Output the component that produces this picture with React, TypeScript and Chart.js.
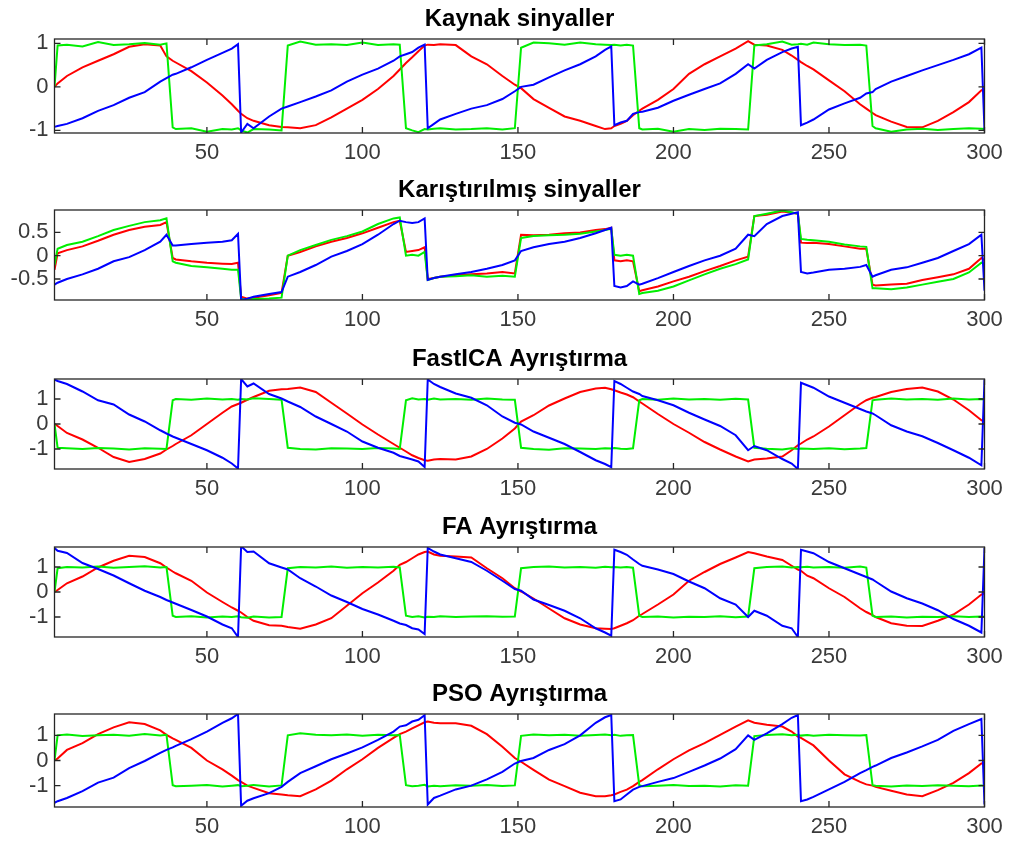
import React, { useEffect, useRef } from "react";
import { Chart, registerables } from "chart.js";

Chart.register(...registerables);

const FONT = '"Liberation Sans", Arial, Helvetica, sans-serif';

// shared sample positions (x = sample index)
const xs = [
  1, 2, 5, 10, 15, 20, 25, 30, 35, 37,
  39, 40, 45, 50, 55, 58, 60, 61, 63, 65,
  70, 74, 76, 80, 85, 90, 95, 100, 105, 110,
  112, 114, 116, 118, 120, 121, 123, 125, 130, 135,
  140, 145, 149, 151, 155, 160, 165, 170, 175, 178,
  180, 181, 183, 185, 187, 189, 190, 195, 200, 205,
  210, 215, 220, 224, 226, 230, 235, 238, 240, 241,
  243, 245, 250, 255, 260, 262, 264, 265, 270, 275,
  280, 285, 290, 295, 299, 300,
];

const xTicks = [50, 100, 150, 200, 250, 300];
const yTicksUnit = [-1, 0, 1];
const yTicksHalf = [-0.5, 0, 0.5];

const titles = [
  "Kaynak sinyaller",
  "Karıştırılmış sinyaller",
  "FastICA Ayrıştırma",
  "FA Ayrıştırma",
  "PSO Ayrıştırma",
];

// ---- Kaynak sinyaller ----
const sourceRed = [
  0, 0.08, 0.25, 0.45, 0.6, 0.75, 0.92, 0.98, 0.95, 0.7,
  0.6, 0.56, 0.36, 0.1, -0.2, -0.4, -0.55, -0.62, -0.72, -0.78,
  -0.88, -0.92, -0.93, -0.95, -0.88, -0.7, -0.5, -0.3, -0.05, 0.25,
  0.4, 0.55, 0.68, 0.82, 0.95, 0.97, 0.96, 0.98, 0.96, 0.7,
  0.52, 0.25, 0.05, -0.03, -0.28, -0.48, -0.68, -0.78, -0.9, -0.97,
  -0.95, -0.9, -0.85, -0.78, -0.65, -0.55, -0.5, -0.3, -0.05, 0.3,
  0.52, 0.7, 0.88, 1.05, 0.97, 0.95, 0.85, 0.72, 0.62, 0.57,
  0.48, 0.4, 0.15, -0.1, -0.4, -0.5, -0.6, -0.65, -0.8, -0.92,
  -0.93, -0.78, -0.58, -0.35, -0.08, -0.05,
];
const sourceGreen = [
  0, 0.95, 0.97, 0.93, 1.03, 0.96, 0.98, 1.01, 0.97, 1.0,
  -0.93, -0.97, -0.95, -1.03, -0.97, -0.98, -0.95, -1.0, -1.05, -0.97,
  -0.98, -1.0, 0.95, 1.04, 0.97, 0.98, 0.96, 1.02, 0.96, 0.98,
  0.97, -0.95, -1.0, -1.04, -0.97, -0.98, -0.96, -0.95, -0.98, -0.97,
  -0.95, -0.98, -0.95, 0.9, 1.02, 1.0, 0.97, 1.02, 0.98, 0.97,
  0.96, 0.97, 0.95, 0.97, 0.95, -0.95, -0.98, -0.96, -1.03, -0.97,
  -0.99, -0.96, -0.97, -0.98, 0.95, 0.98, 1.04, 0.97, 0.98, 0.99,
  0.97, 1.02, 0.98, 0.96, 0.97, 0.95, -0.9, -0.95, -1.03, -0.98,
  -0.96, -0.99, -0.97, -0.95, -0.96, -0.97,
];
const sourceBlue = [
  -0.92, -0.9, -0.85, -0.72, -0.55, -0.42, -0.25, -0.12, 0.12, 0.2,
  0.28, 0.3, 0.45, 0.62, 0.78, 0.88, 0.98, -1.05, -0.85, -0.95,
  -0.68, -0.5, -0.45, -0.35, -0.22, -0.08, 0.12, 0.28, 0.42, 0.6,
  0.7, 0.75, 0.8, 0.9, 0.97, -0.95, -0.85, -0.75, -0.62, -0.5,
  -0.42, -0.28, -0.1, 0.0, 0.05, 0.22, 0.38, 0.52, 0.7, 0.85,
  0.93, -0.88, -0.82, -0.78, -0.62, -0.58, -0.57, -0.48, -0.32, -0.18,
  -0.05, 0.08, 0.3, 0.52, 0.42, 0.62, 0.8, 0.88, 0.92, -0.88,
  -0.82, -0.75, -0.52, -0.38, -0.25, -0.15, -0.12, -0.05, 0.12, 0.25,
  0.38, 0.5, 0.62, 0.75, 0.9, -1.0,
];

// ---- Karıştırılmış sinyaller ----
const mixedRed = [
  -0.3, 0.05, 0.12, 0.2, 0.32, 0.45, 0.55, 0.62, 0.66, 0.72,
  -0.05, -0.08, -0.12, -0.15, -0.17, -0.18, -0.15, -0.88, -0.92, -0.9,
  -0.85, -0.8, 0.0, 0.08, 0.2, 0.3, 0.38, 0.48, 0.6, 0.72,
  0.75, 0.08, 0.1, 0.12, 0.18, -0.5, -0.48, -0.45, -0.42, -0.4,
  -0.38, -0.35, -0.38, 0.45, 0.44, 0.45, 0.48, 0.5, 0.55, 0.57,
  0.6, -0.1, -0.12, -0.1, -0.12, -0.76, -0.74, -0.66, -0.55, -0.45,
  -0.33, -0.22, -0.1, -0.02, 0.85, 0.88, 0.95, 0.92, 0.9, 0.28,
  0.27, 0.28, 0.25, 0.2, 0.15, 0.15, -0.62, -0.64, -0.62, -0.6,
  -0.52, -0.46, -0.4, -0.28, -0.05, -0.1,
];
const mixedGreen = [
  -0.2, 0.15, 0.23, 0.3, 0.42, 0.55, 0.64, 0.72, 0.76, 0.8,
  -0.12, -0.15, -0.22, -0.25, -0.28, -0.3, -0.3, -0.92, -0.95, -0.93,
  -0.92, -0.9, 0.0, 0.12, 0.23, 0.34, 0.42, 0.52, 0.68, 0.8,
  0.82, 0.0, 0.02, 0.0, 0.08, -0.52, -0.48, -0.45, -0.44, -0.42,
  -0.45, -0.43, -0.45, 0.38, 0.42, 0.44, 0.45, 0.47, 0.52, 0.55,
  0.58, 0.02, 0.0, 0.02, 0.0, -0.82, -0.8, -0.75, -0.66, -0.53,
  -0.4, -0.28, -0.18, -0.08, 0.85, 0.9, 0.97, 0.93, 0.9, 0.36,
  0.34, 0.33, 0.3, 0.24, 0.2, 0.19, -0.7, -0.7, -0.72, -0.68,
  -0.62, -0.56, -0.5, -0.36, -0.15, -0.18,
];
const mixedBlue = [
  -0.62, -0.58, -0.5, -0.4, -0.28, -0.12, -0.03, 0.12, 0.3, 0.45,
  0.22, 0.22, 0.25, 0.28, 0.3, 0.33, 0.47, -0.95, -0.92, -0.88,
  -0.82, -0.78, -0.45, -0.35, -0.2, -0.02, 0.1, 0.25, 0.45, 0.68,
  0.75, 0.72, 0.7, 0.72, 0.8, -0.52, -0.48, -0.45, -0.4, -0.35,
  -0.28, -0.2, -0.1, 0.1, 0.18, 0.25, 0.3, 0.38, 0.48, 0.55,
  0.6, -0.65, -0.68, -0.65, -0.55, -0.62, -0.6, -0.48, -0.35, -0.22,
  -0.1, 0.0, 0.15, 0.45, 0.42, 0.68, 0.85, 0.9, 0.93, -0.35,
  -0.38, -0.36, -0.3, -0.28, -0.24, -0.2, -0.45, -0.42, -0.3, -0.25,
  -0.15, -0.05, 0.1, 0.25, 0.45, -0.75,
];

// ---- FastICA Ayrıştırma ----
const icaRed = [
  0, -0.08, -0.36, -0.62, -0.95, -1.32, -1.52, -1.4, -1.18, -1.02,
  -0.88, -0.8, -0.45, 0.0, 0.45, 0.7, 0.8, 0.85, 0.97, 1.08,
  1.33, 1.39, 1.4, 1.46, 1.28, 0.85, 0.42, -0.02, -0.42, -0.8,
  -0.95, -1.1, -1.25, -1.36, -1.45, -1.47, -1.42, -1.4, -1.42, -1.3,
  -1.0, -0.58, -0.18, 0.1, 0.35, 0.74, 1.02, 1.28, 1.42, 1.45,
  1.39, 1.35, 1.26, 1.18, 1.07, 0.9, 0.82, 0.4, 0.0, -0.35,
  -0.72, -1.02, -1.3, -1.5, -1.42, -1.38, -1.3, -1.05, -0.85, -0.78,
  -0.62, -0.5, -0.1, 0.35, 0.8, 0.95, 1.05, 1.08, 1.28, 1.4,
  1.46, 1.3, 0.98, 0.55, 0.15, 0.08,
];
const icaGreen = [
  0, -0.95, -0.97, -1.0, -0.96, -0.98, -1.02, -0.97, -0.99, -1.0,
  0.95, 1.0, 0.97, 1.02, 0.98, 1.0, 0.97, 1.0, 0.98, 1.03,
  1.0, 0.97, -0.95, -1.0, -1.02, -0.97, -0.98, -1.0, -0.96, -0.98,
  -1.0, 0.95, 1.03, 0.98, 1.0, 0.97, 1.02, 0.98, 1.0, 0.97,
  1.02, 0.98, 0.97, -0.95, -1.0, -1.03, -0.97, -0.98, -1.0, -0.97,
  -0.98, -0.96, -0.99, -1.0, -0.97, 0.95, 1.0, 0.97, 1.02, 0.98,
  1.0, 0.97, 1.01, 0.98, -0.95, -0.99, -1.02, -0.97, -1.0, -0.98,
  -0.99, -1.0, -0.97, -1.01, -0.98, -0.96, 0.95, 0.97, 1.02, 0.98,
  1.0, 0.97, 1.02, 0.98, 1.0, 0.97,
];
const icaBlue = [
  1.78, 1.72, 1.6, 1.3, 0.95, 0.78, 0.38, 0.1, -0.25, -0.38,
  -0.5, -0.55, -0.8, -1.05, -1.35, -1.58, -1.78, 1.8, 1.5, 1.62,
  1.2, 1.02, 0.9, 0.68, 0.3, 0.0, -0.3, -0.7, -0.95, -1.15,
  -1.28, -1.35, -1.42, -1.5, -1.72, 1.78, 1.6, 1.48, 1.22, 1.05,
  0.75, 0.3, 0.05, -0.02, -0.3, -0.55, -0.8, -1.12, -1.45, -1.6,
  -1.73, 1.72, 1.6, 1.45, 1.3, 1.2, 1.12, 0.95, 0.75, 0.45,
  0.18, -0.08, -0.45, -1.05, -0.88, -1.05, -1.4, -1.58, -1.8, 1.65,
  1.55, 1.45, 1.1, 0.85, 0.6, 0.5, 0.42, 0.35, -0.05, -0.3,
  -0.49, -0.76, -1.05, -1.35, -1.65, 1.78,
];

// ---- FA Ayrıştırma ----
const faRed = [
  0, 0.08, 0.35, 0.62, 0.98, 1.25, 1.45, 1.4, 1.15, 0.98,
  0.82, 0.75, 0.45, -0.02, -0.4, -0.62, -0.75, -0.82, -1.0, -1.15,
  -1.33, -1.35, -1.4, -1.47, -1.3, -1.05, -0.55, -0.05, 0.38, 0.85,
  1.09, 1.2, 1.35, 1.5, 1.6, 1.62, 1.5, 1.45, 1.42, 1.38,
  0.95, 0.55, 0.15, 0.02, -0.26, -0.66, -1.05, -1.3, -1.45, -1.47,
  -1.48, -1.45, -1.35, -1.25, -1.13, -0.95, -0.88, -0.5, -0.1, 0.45,
  0.8, 1.12, 1.38, 1.6, 1.55, 1.42, 1.28, 1.05, 0.9, 0.85,
  0.65, 0.55, 0.15, -0.2, -0.65, -0.8, -0.92, -1.0, -1.25, -1.35,
  -1.36, -1.15, -0.9, -0.5, -0.1, -0.05,
];
const faGreen = [
  0, 0.95, 1.0, 0.98, 1.02, 0.97, 1.0, 1.03, 0.98, 1.0,
  -0.95, -1.0, -0.97, -1.02, -0.98, -1.0, -0.97, -1.01, -1.03, -0.98,
  -1.02, -1.0, 0.95, 1.0, 0.98, 1.02, 0.97, 1.0, 0.98, 1.01,
  0.98, -0.95, -1.0, -0.97, -1.02, -0.99, -1.0, -0.97, -1.0, -0.98,
  -0.97, -0.99, -0.98, 0.95, 1.0, 1.02, 0.98, 1.0, 0.97, 1.01,
  0.99, 1.0, 0.98, 1.0, 0.97, -0.95, -1.0, -0.98, -1.02, -0.99,
  -1.0, -0.97, -1.01, -0.98, 0.95, 1.0, 1.02, 0.98, 1.0, 0.99,
  1.01, 0.98, 1.0, 0.97, 1.02, 0.98, -0.95, -1.0, -0.98, -1.02,
  -0.99, -1.0, -0.97, -1.0, -0.98, -0.99,
];
const faBlue = [
  1.76, 1.65, 1.56, 1.16, 0.92, 0.66, 0.35, 0.05, -0.2, -0.32,
  -0.42, -0.47, -0.72, -0.98, -1.3, -1.45, -1.8, 1.83, 1.6, 1.62,
  1.15, 0.98, 0.9, 0.55, 0.22, -0.14, -0.4, -0.68, -0.9, -1.15,
  -1.26, -1.32, -1.45, -1.5, -1.68, 1.76, 1.62, 1.5, 1.35, 1.2,
  0.85, 0.45, 0.12, 0.05, -0.3, -0.52, -0.75, -1.05, -1.45, -1.62,
  -1.75, 1.69, 1.6, 1.49, 1.3, 1.12, 1.05, 0.9, 0.72, 0.42,
  0.15, -0.25, -0.5, -1.0, -0.75, -0.95, -1.35, -1.45, -1.8, 1.69,
  1.62, 1.55, 1.2, 0.95, 0.7, 0.6, 0.5, 0.42, 0.02, -0.25,
  -0.46, -0.73, -1.08, -1.35, -1.62, 1.76,
];

// ---- PSO Ayrıştırma ----
const psoRed = [
  0, 0.08, 0.42, 0.69, 1.05, 1.32, 1.52, 1.45, 1.2, 1.02,
  0.88, 0.82, 0.5, 0.0, -0.35, -0.6, -0.78, -0.85, -1.0, -1.09,
  -1.3, -1.35, -1.38, -1.42, -1.15, -0.8, -0.35, 0.05, 0.5, 0.9,
  1.05, 1.15, 1.28, 1.4, 1.52, 1.55, 1.5, 1.48, 1.48, 1.38,
  1.05, 0.55, 0.1, -0.05, -0.37, -0.76, -1.02, -1.28, -1.42, -1.42,
  -1.38, -1.35, -1.25, -1.16, -1.02, -0.85, -0.78, -0.35, 0.05, 0.4,
  0.69, 1.02, 1.35, 1.6, 1.5, 1.42, 1.35, 1.15, 0.95, 0.9,
  0.75, 0.6, 0.0, -0.55, -0.85, -0.95, -1.0, -1.05, -1.2, -1.35,
  -1.42, -1.18, -0.89, -0.5, -0.12, -0.1,
];
const psoGreen = [
  0, 1.0, 1.03, 0.97, 1.0, 1.02, 0.98, 1.05, 0.99, 1.02,
  -0.98, -1.02, -1.0, -0.97, -1.03, -1.0, -0.98, -1.02, -1.0, -0.97,
  -1.03, -0.99, 1.0, 1.08, 1.02, 1.0, 1.03, 0.98, 1.02, 1.0,
  1.01, -0.98, -1.02, -1.0, -0.97, -1.03, -1.0, -1.02, -0.98, -1.0,
  -0.97, -1.01, -0.99, 0.98, 1.03, 1.0, 1.02, 0.98, 1.01, 1.03,
  1.0, 1.02, 0.98, 1.0, 1.01, -0.98, -1.02, -1.0, -0.97, -1.01,
  -1.0, -1.03, -0.98, -1.0, 0.97, 1.01, 1.04, 1.0, 1.02, 0.99,
  1.01, 0.98, 1.02, 1.0, 0.99, 1.01, -0.98, -1.0, -1.03, -0.99,
  -1.01, -0.98, -1.0, -1.02, -0.99, -1.01,
];
const psoBlue = [
  -1.68, -1.62, -1.49, -1.22, -0.88, -0.68, -0.3, -0.02, 0.3, 0.42,
  0.52, 0.58, 0.85, 1.15, 1.5, 1.68, 1.85, -1.8, -1.6, -1.5,
  -1.3, -1.05, -0.85, -0.5, -0.23, 0.05, 0.28, 0.52, 0.82, 1.15,
  1.35, 1.4, 1.55, 1.62, 1.8, -1.75, -1.49, -1.4, -1.15, -1.0,
  -0.75, -0.45, -0.12, -0.02, 0.1, 0.42, 0.65, 1.0, 1.5, 1.72,
  1.81, -1.62, -1.55, -1.35, -1.16, -1.05, -1.02, -0.85, -0.7, -0.45,
  -0.2, 0.08, 0.45, 1.0, 0.82, 1.08, 1.45, 1.7, 1.81, -1.62,
  -1.55, -1.45, -1.15, -0.85, -0.5, -0.38, -0.25, -0.2, 0.1, 0.32,
  0.56, 0.82, 1.18, 1.45, 1.65, -1.75,
];

type PanelCfg = {
  title: string;
  red: number[];
  green: number[];
  blue: number[];
  yTicks: number[];
  yMin: number;
  yMax: number;
  top: number;
  bottom: number;
};

const panels: PanelCfg[] = [
  { title: titles[0], red: sourceRed, green: sourceGreen, blue: sourceBlue, yTicks: yTicksUnit, yMin: -1.06, yMax: 1.1, top: 39, bottom: 133 },
  { title: titles[1], red: mixedRed, green: mixedGreen, blue: mixedBlue, yTicks: yTicksHalf, yMin: -0.95, yMax: 0.98, top: 210, bottom: 300 },
  { title: titles[2], red: icaRed, green: icaGreen, blue: icaBlue, yTicks: yTicksUnit, yMin: -1.8, yMax: 1.8, top: 379, bottom: 469 },
  { title: titles[3], red: faRed, green: faGreen, blue: faBlue, yTicks: yTicksUnit, yMin: -1.8, yMax: 1.8, top: 547, bottom: 637 },
  { title: titles[4], red: psoRed, green: psoGreen, blue: psoBlue, yTicks: yTicksUnit, yMin: -1.85, yMax: 1.85, top: 714, bottom: 807 },
];

const W = 1011;
const PAD_TOP = 45;
const AXIS_H = 40;
const Y_W = 54.5;
const RIGHT_PAD = 26.5;

function PanelChart({ p }: { p: PanelCfg }) {
  const ref = useRef<HTMLCanvasElement | null>(null);
  const h = p.bottom - p.top + PAD_TOP + AXIS_H;

  useEffect(() => {
    if (!ref.current) return;
    const toPts = (arr: number[]) => xs.map((x, i) => ({ x, y: arr[i] }));
    const framePlugin = {
      id: "frame",
      afterDatasetsDraw(chart: any) {
        const { ctx, chartArea: a, scales } = chart;
        ctx.save();
        ctx.strokeStyle = "#262626";
        ctx.lineWidth = 1.3;
        ctx.strokeRect(a.left, a.top, a.right - a.left, a.bottom - a.top);
        const t = 6;
        ctx.beginPath();
        scales.x.ticks.forEach((tk: any) => {
          const px = scales.x.getPixelForValue(tk.value);
          ctx.moveTo(px, a.bottom);
          ctx.lineTo(px, a.bottom - t);
          ctx.moveTo(px, a.top);
          ctx.lineTo(px, a.top + t);
        });
        scales.y.ticks.forEach((tk: any) => {
          const py = scales.y.getPixelForValue(tk.value);
          ctx.moveTo(a.left, py);
          ctx.lineTo(a.left + t, py);
          ctx.moveTo(a.right, py);
          ctx.lineTo(a.right - t, py);
        });
        ctx.stroke();
        ctx.fillStyle = "#000";
        ctx.font = `bold 24px ${FONT}`;
        ctx.textAlign = "center";
        ctx.textBaseline = "alphabetic";
        ctx.fillText(p.title, (a.left + a.right) / 2, a.top - 13);
        ctx.restore();
      },
    };

    const chart = new Chart(ref.current, {
      type: "line",
      data: {
        datasets: [
          { data: toPts(p.blue), borderColor: "#0000ff" },
          { data: toPts(p.green), borderColor: "#00ee00" },
          { data: toPts(p.red), borderColor: "#ff0000" },
        ] as any,
      },
      options: {
        responsive: false,
        maintainAspectRatio: false,
        animation: false,
        events: [],
        layout: { padding: { top: PAD_TOP, left: 0, right: RIGHT_PAD, bottom: 0 } },
        plugins: {
          legend: { display: false },
          tooltip: { enabled: false },
          title: { display: false },
        },
        elements: {
          point: { radius: 0 },
          line: { borderWidth: 2, tension: 0, fill: false },
        },
        scales: {
          x: {
            type: "linear",
            min: 1,
            max: 300,
            afterBuildTicks: (s: any) => {
              s.ticks = xTicks.map((v) => ({ value: v }));
            },
            afterFit: (s: any) => {
              s.height = AXIS_H;
            },
            grid: { display: false, drawTicks: false },
            border: { display: false },
            ticks: {
              autoSkip: false,
              maxRotation: 0,
              padding: 7,
              color: "#3a3a3a",
              font: { family: FONT, size: 22 },
              callback: (v: any) => String(v),
            },
          },
          y: {
            type: "linear",
            min: p.yMin,
            max: p.yMax,
            afterBuildTicks: (s: any) => {
              s.ticks = p.yTicks.map((v) => ({ value: v }));
            },
            afterFit: (s: any) => {
              s.width = Y_W;
            },
            grid: { display: false, drawTicks: false },
            border: { display: false },
            ticks: {
              autoSkip: false,
              padding: 6,
              color: "#3a3a3a",
              font: { family: FONT, size: 22 },
              callback: (v: any) => String(v),
            },
          },
        },
      } as any,
      plugins: [framePlugin],
    });
    return () => chart.destroy();
  }, []);

  return (
    <canvas
      ref={ref}
      width={W}
      height={h}
      style={{ position: "absolute", left: 0, top: p.top - PAD_TOP, width: W, height: h }}
    />
  );
}

export default function App() {
  return (
    <div style={{ position: "absolute", left: 0, top: 0, width: W, height: 848, background: "#fff" }}>
      {panels.map((p, i) => (
        <PanelChart key={i} p={p} />
      ))}
    </div>
  );
}
